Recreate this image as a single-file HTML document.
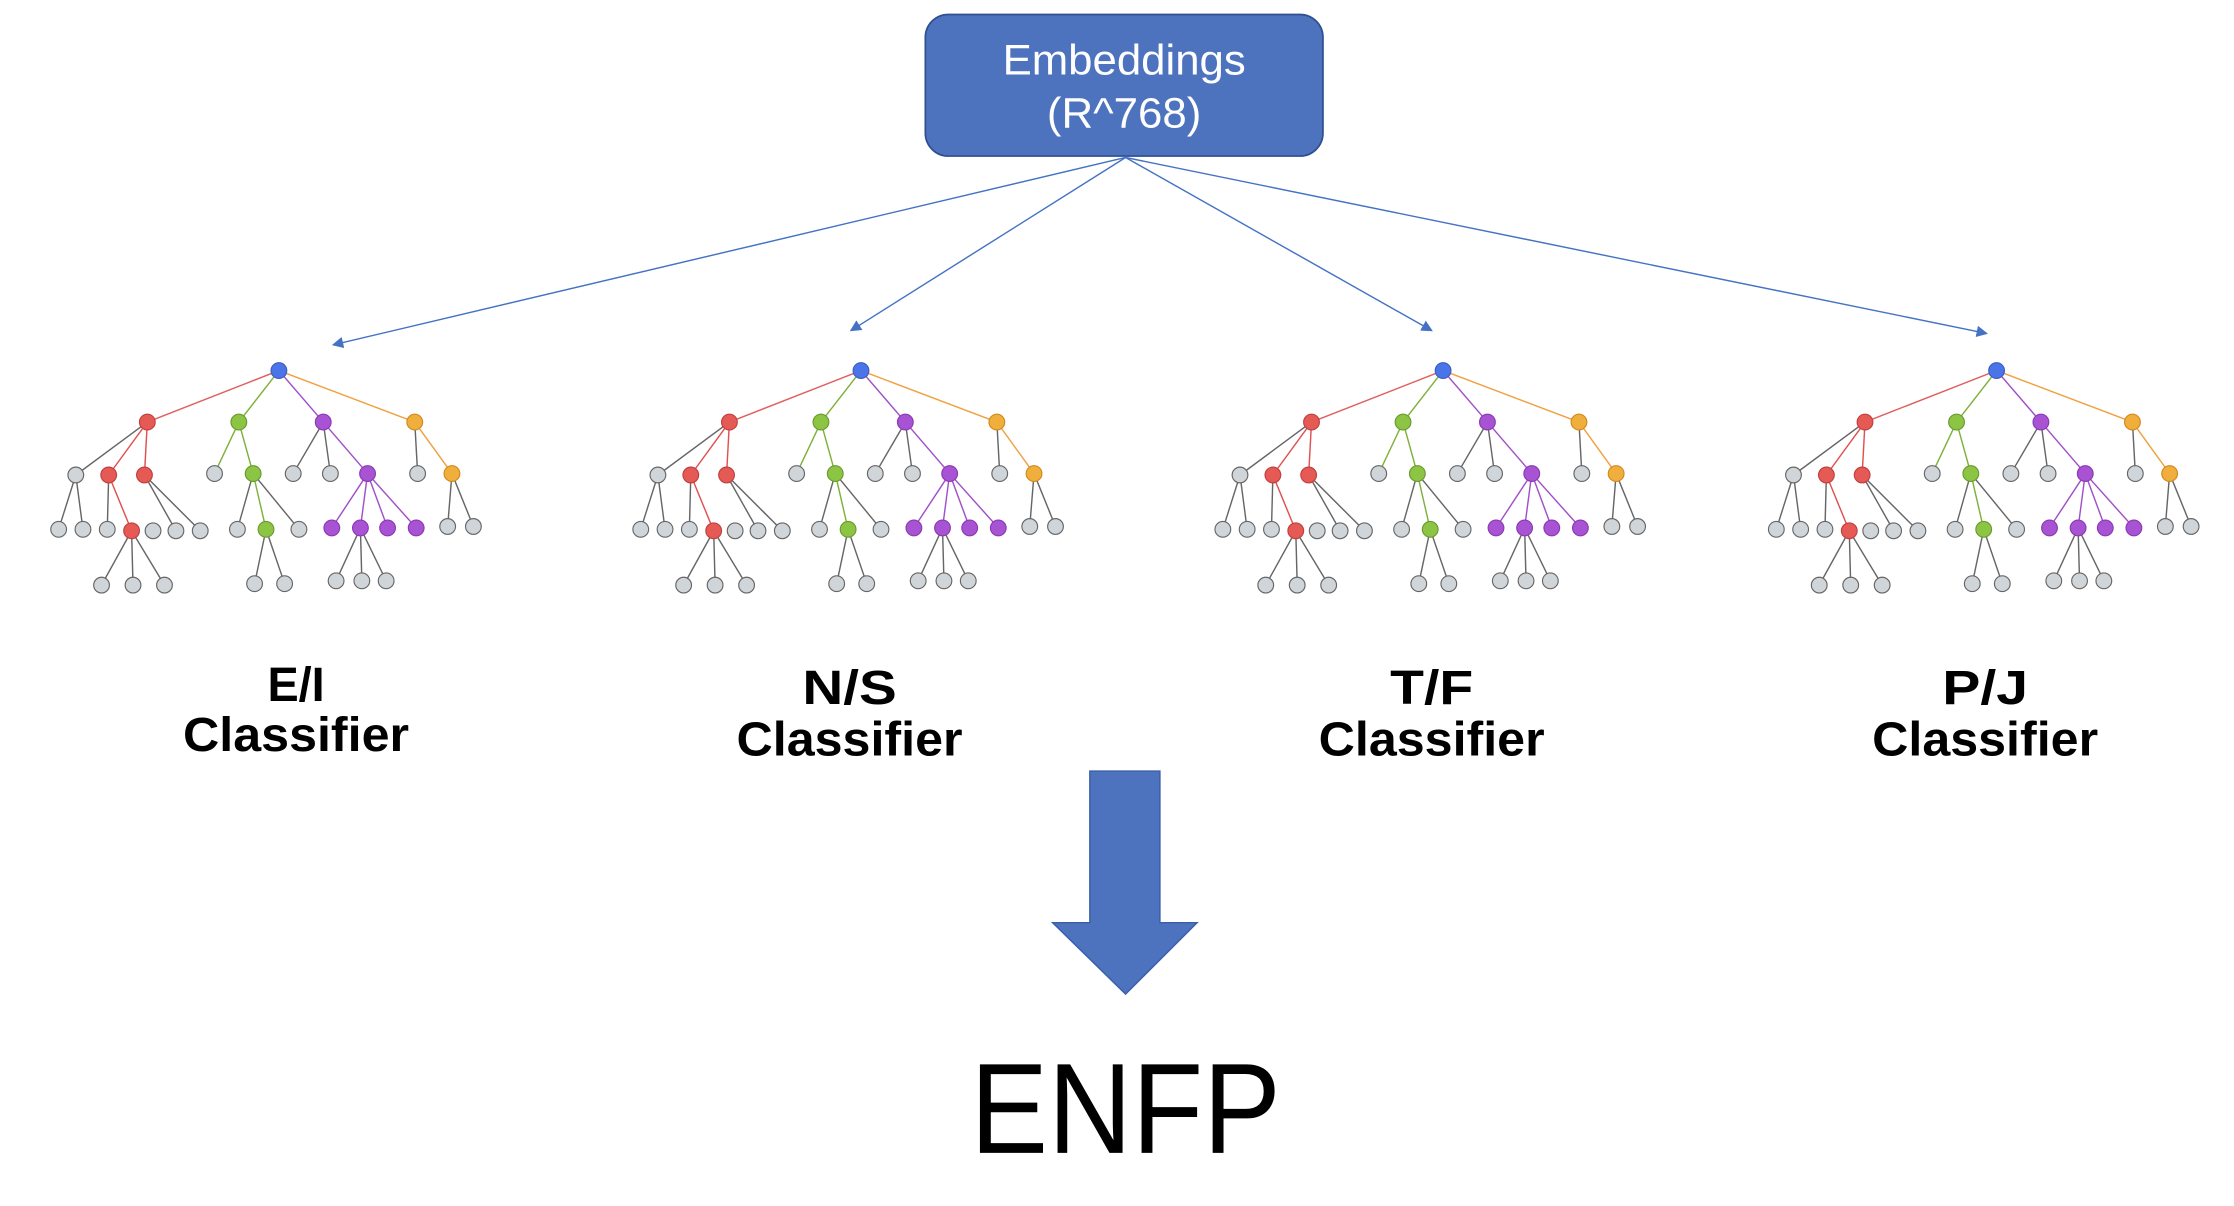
<!DOCTYPE html>
<html><head><meta charset="utf-8"><style>
html,body{margin:0;padding:0;background:#fff;}
svg{display:block;}
</style></head><body>
<svg width="2234" height="1206" viewBox="0 0 1562 843" xmlns="http://www.w3.org/2000/svg">
<defs>
<marker id="ah" markerWidth="8" markerHeight="8" refX="7" refY="4" orient="auto" markerUnits="userSpaceOnUse">
<path d="M0,0 L8,4 L0,8 Z" fill="#4472C4"/>
</marker>
<g id="tree" stroke-width="1">
<g fill="none">
<line x1="195" y1="259" x2="103" y2="295" stroke="#E06060"/>
<line x1="195" y1="259" x2="167" y2="295" stroke="#7FB03A"/>
<line x1="195" y1="259" x2="226" y2="295" stroke="#A050C8"/>
<line x1="195" y1="259" x2="290" y2="295" stroke="#F0A040"/>
<line x1="103" y1="295" x2="53" y2="332" stroke="#666"/>
<line x1="103" y1="295" x2="76" y2="332" stroke="#E05050"/>
<line x1="103" y1="295" x2="101" y2="332" stroke="#E05050"/>
<line x1="53" y1="332" x2="41" y2="370" stroke="#666"/>
<line x1="53" y1="332" x2="58" y2="370" stroke="#666"/>
<line x1="76" y1="332" x2="75" y2="370" stroke="#666"/>
<line x1="76" y1="332" x2="92" y2="371" stroke="#E05050"/>
<line x1="101" y1="332" x2="123" y2="371" stroke="#666"/>
<line x1="101" y1="332" x2="140" y2="371" stroke="#666"/>
<line x1="92" y1="371" x2="71" y2="409" stroke="#666"/>
<line x1="92" y1="371" x2="93" y2="409" stroke="#666"/>
<line x1="92" y1="371" x2="115" y2="409" stroke="#666"/>
<line x1="167" y1="295" x2="150" y2="331" stroke="#7FB03A"/>
<line x1="167" y1="295" x2="177" y2="331" stroke="#7FB03A"/>
<line x1="177" y1="331" x2="166" y2="370" stroke="#666"/>
<line x1="177" y1="331" x2="186" y2="370" stroke="#7FB03A"/>
<line x1="177" y1="331" x2="209" y2="370" stroke="#666"/>
<line x1="186" y1="370" x2="178" y2="408" stroke="#666"/>
<line x1="186" y1="370" x2="199" y2="408" stroke="#666"/>
<line x1="226" y1="295" x2="205" y2="331" stroke="#666"/>
<line x1="226" y1="295" x2="231" y2="331" stroke="#666"/>
<line x1="226" y1="295" x2="257" y2="331" stroke="#A050C8"/>
<line x1="257" y1="331" x2="232" y2="369" stroke="#A050C8"/>
<line x1="257" y1="331" x2="252" y2="369" stroke="#A050C8"/>
<line x1="257" y1="331" x2="271" y2="369" stroke="#A050C8"/>
<line x1="257" y1="331" x2="291" y2="369" stroke="#A050C8"/>
<line x1="252" y1="369" x2="235" y2="406" stroke="#666"/>
<line x1="252" y1="369" x2="253" y2="406" stroke="#666"/>
<line x1="252" y1="369" x2="270" y2="406" stroke="#666"/>
<line x1="290" y1="295" x2="292" y2="331" stroke="#666"/>
<line x1="290" y1="295" x2="316" y2="331" stroke="#F0A040"/>
<line x1="316" y1="331" x2="313" y2="368" stroke="#666"/>
<line x1="316" y1="331" x2="331" y2="368" stroke="#666"/>
</g>
<g stroke-width="0.8">
<circle cx="195" cy="259" r="5.5" fill="#4A74E8" stroke="#3A5FC0"/>
<g fill="#E55A55" stroke="#C04040">
<circle cx="103" cy="295" r="5.5"/><circle cx="76" cy="332" r="5.5"/><circle cx="101" cy="332" r="5.5"/><circle cx="92" cy="371" r="5.5"/>
</g>
<g fill="#8CC444" stroke="#6A9A30">
<circle cx="167" cy="295" r="5.5"/><circle cx="177" cy="331" r="5.5"/><circle cx="186" cy="370" r="5.5"/>
</g>
<g fill="#A852D4" stroke="#8A3AB0">
<circle cx="226" cy="295" r="5.5"/><circle cx="257" cy="331" r="5.5"/><circle cx="232" cy="369" r="5.5"/><circle cx="252" cy="369" r="5.5"/><circle cx="271" cy="369" r="5.5"/><circle cx="291" cy="369" r="5.5"/>
</g>
<g fill="#F0AE3C" stroke="#D08A20">
<circle cx="290" cy="295" r="5.5"/><circle cx="316" cy="331" r="5.5"/>
</g>
<g fill="#D0D5DA" stroke="#666">
<circle cx="53" cy="332" r="5.5"/><circle cx="150" cy="331" r="5.5"/><circle cx="205" cy="331" r="5.5"/><circle cx="231" cy="331" r="5.5"/><circle cx="292" cy="331" r="5.5"/>
<circle cx="41" cy="370" r="5.5"/><circle cx="58" cy="370" r="5.5"/><circle cx="75" cy="370" r="5.5"/><circle cx="107" cy="371" r="5.5"/><circle cx="123" cy="371" r="5.5"/><circle cx="140" cy="371" r="5.5"/>
<circle cx="166" cy="370" r="5.5"/><circle cx="209" cy="370" r="5.5"/><circle cx="313" cy="368" r="5.5"/><circle cx="331" cy="368" r="5.5"/>
<circle cx="71" cy="409" r="5.5"/><circle cx="93" cy="409" r="5.5"/><circle cx="115" cy="409" r="5.5"/>
<circle cx="178" cy="408" r="5.5"/><circle cx="199" cy="408" r="5.5"/>
<circle cx="235" cy="406" r="5.5"/><circle cx="253" cy="406" r="5.5"/><circle cx="270" cy="406" r="5.5"/>
</g>
</g>
</g>
</defs>

<rect x="647" y="10" width="278" height="99" rx="16" ry="16" fill="#4E73BE" stroke="#2F4F8F" stroke-width="1.2"/>
<text x="786" y="52" text-anchor="middle" font-family="Liberation Sans, sans-serif" font-size="30" fill="#fff" textLength="170" lengthAdjust="spacingAndGlyphs">Embeddings</text>
<text x="786" y="89" text-anchor="middle" font-family="Liberation Sans, sans-serif" font-size="30" fill="#fff" textLength="108" lengthAdjust="spacingAndGlyphs">(R^768)</text>

<g stroke="#4472C4" stroke-width="1" marker-end="url(#ah)">
<line x1="787" y1="110" x2="233" y2="241"/>
<line x1="787" y1="110" x2="595" y2="231"/>
<line x1="787" y1="110" x2="1001" y2="231"/>
<line x1="787" y1="110" x2="1389" y2="233"/>
</g>

<use href="#tree" x="0" y="0"/>
<use href="#tree" x="407" y="0"/>
<use href="#tree" x="814" y="0"/>
<use href="#tree" x="1201" y="0"/>

<g font-family="Liberation Sans, sans-serif" font-size="34" font-weight="bold" fill="#000" text-anchor="middle" lengthAdjust="spacingAndGlyphs">
<text x="207" y="490" textLength="40" lengthAdjust="spacingAndGlyphs">E/I</text><text x="207" y="525" textLength="158" lengthAdjust="spacingAndGlyphs">Classifier</text>
<text x="594" y="492" textLength="66" lengthAdjust="spacingAndGlyphs">N/S</text><text x="594" y="528" textLength="158" lengthAdjust="spacingAndGlyphs">Classifier</text>
<text x="1001" y="492" textLength="58" lengthAdjust="spacingAndGlyphs">T/F</text><text x="1001" y="528" textLength="158" lengthAdjust="spacingAndGlyphs">Classifier</text>
<text x="1388" y="492" textLength="60" lengthAdjust="spacingAndGlyphs">P/J</text><text x="1388" y="528" textLength="158" lengthAdjust="spacingAndGlyphs">Classifier</text>
</g>

<path d="M762,539 L811,539 L811,645 L837,645 L787,695 L736,645 L762,645 Z" fill="#4E73BE" stroke="#3A5FA8" stroke-width="1"/>

<text x="787" y="806" text-anchor="middle" font-family="Liberation Sans, sans-serif" font-size="90" fill="#000" textLength="217" lengthAdjust="spacingAndGlyphs">ENFP</text>
</svg>
</body></html>
